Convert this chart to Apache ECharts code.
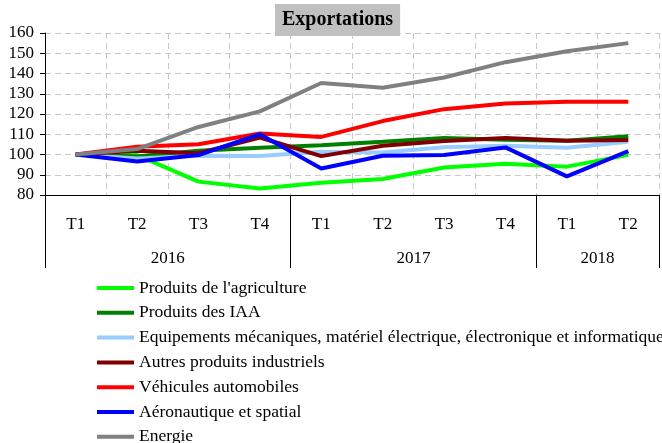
<!DOCTYPE html>
<html>
<head>
<meta charset="utf-8">
<script src="https://cdn.jsdelivr.net/npm/echarts@6/dist/echarts.min.js"></script>
<style>
html, body { margin: 0; padding: 0; background: #fff; }
#chart { width: 662px; height: 443px; }
</style>
</head>
<body>
<div id="chart"></div>
<script>
// trimestres et années
var quarters = ['T1', 'T2', 'T3', 'T4', 'T1', 'T2', 'T3', 'T4', 'T1', 'T2'];
var years = ['2016', '2017', '2018'];
var yearSpans = [4, 4, 2];

// indices base 100
var agriculture = [100, 99.7, 86.6, 83.2, 86, 87.9, 93.6, 95.4, 94, 99.8];
var iaa = [100, 99, 101.8, 103.3, 104.6, 106.3, 108.2, 107.3, 106.8, 109];
var equipements = [100, 98, 99.4, 99.2, 101.3, 101, 103.6, 104.3, 103.3, 106.3];
var autres = [100, 101.8, 100.6, 108.4, 99.2, 104.3, 106.7, 108.2, 106.8, 107.2];
var vehicules = [100, 103.8, 105.1, 110.4, 108.7, 116.5, 122.4, 125.2, 126, 126];
var aero = [100, 96.5, 99.7, 110, 93.1, 99.4, 99.8, 103.5, 89.2, 101.7];
var energie = [100, 102.7, 113.6, 121.3, 135.3, 133, 138, 145.6, 151, 155];

var names = ["Produits de l'agriculture", 'Produits des IAA',
  'Equipements mécaniques, matériel électrique, électronique et informatique',
  'Autres produits industriels', 'Véhicules automobiles', 'Aéronautique et spatial', 'Energie'];
var colors = ['#00ff00', '#008000', '#99ccff', '#800000', '#ff0000', '#0000ff', '#808080'];
var values = [agriculture, iaa, equipements, autres, vehicules, aero, energie];

// limites et milieux des années sur l'axe 0..10
var yearBounds = [0], yearMids = [];
var acc = 0;
for (var i = 0; i < yearSpans.length; i++) {
  yearMids.push(acc + yearSpans[i] / 2);
  acc += yearSpans[i];
  yearBounds.push(acc);
}

var serif = 'Liberation Serif';
var chart = echarts.init(document.getElementById('chart'));

var series = [];
for (var k = 0; k < names.length; k++) {
  series.push({
    name: names[k],
    type: 'line',
    xAxisIndex: 0,
    symbol: 'none',
    lineStyle: { width: 4, color: colors[k] },
    itemStyle: { color: colors[k] },
    data: values[k]
  });
}

var option = {
  animation: false,
  color: colors,
  title: {
    text: 'Exportations',
    left: 275,
    top: 4,
    backgroundColor: '#c0c0c0',
    padding: [6, 7, 6, 7],
    textStyle: { fontFamily: serif, fontWeight: 'bold', fontSize: 20, color: '#000' }
  },
  legend: {
    orient: 'vertical',
    left: 97,
    top: 279,
    width: 565,
    height: 220,
    padding: 0,
    itemWidth: 37,
    itemHeight: 4,
    itemGap: 6.8,
    icon: 'rect',
    textStyle: { fontFamily: serif, fontSize: 17.5, color: '#000' },
    data: names
  },
  grid: { left: 45, right: 3, top: 33, bottom: 248 },
  xAxis: [
    {
      type: 'category',
      data: quarters,
      axisLine: { lineStyle: { color: '#000', width: 1 } },
      axisTick: { interval: 0, length: 37, lineStyle: { color: '#000' } },
      axisLabel: { interval: 0, margin: 21, fontFamily: serif, fontSize: 17, color: '#000' },
      splitLine: { show: true, interval: 0, lineStyle: { color: '#c8c8c8', type: [6, 4] } }
    },
    {
      type: 'value',
      position: 'bottom',
      min: 0,
      max: 10,
      axisLine: { show: false },
      axisTick: { customValues: yearBounds, length: 73, lineStyle: { color: '#000' } },
      axisLabel: {
        customValues: yearMids,
        margin: 55,
        fontFamily: serif,
        fontSize: 17,
        color: '#000',
        formatter: function (v) { return years[yearMids.indexOf(v)]; }
      },
      splitLine: { show: false }
    }
  ],
  yAxis: {
    type: 'value',
    min: 80,
    max: 160,
    interval: 10,
    axisLine: { show: true, lineStyle: { color: '#000' } },
    axisTick: { show: true, length: 5, lineStyle: { color: '#000' } },
    axisLabel: { margin: 11, fontFamily: serif, fontSize: 17, color: '#000' },
    splitLine: { show: true, lineStyle: { color: '#c8c8c8', type: [6, 4] } }
  },
  series: series
};

chart.setOption(option);
</script>
</body>
</html>
